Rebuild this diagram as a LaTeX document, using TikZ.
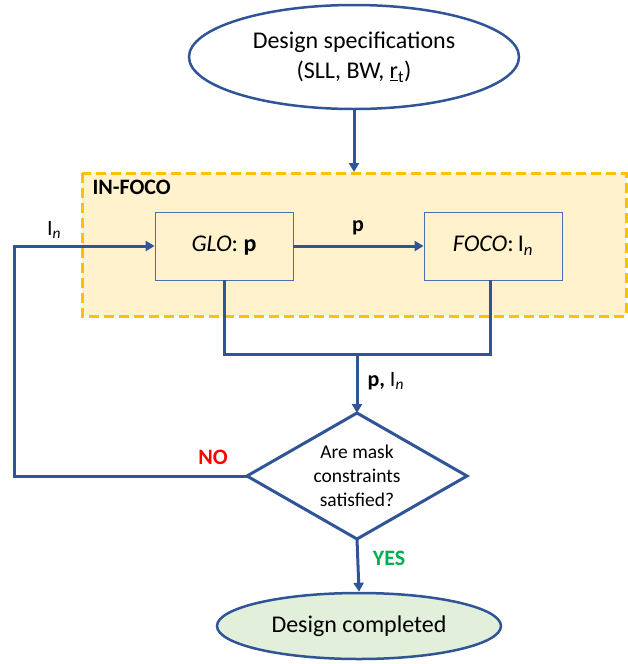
\documentclass[tikz,border=0pt]{standalone}
\usepackage{fontspec}
\setmainfont{Carlito}
\usetikzlibrary{shapes.geometric,arrows.meta}
\definecolor{lineblue}{HTML}{2F5597}
\definecolor{boxblue}{HTML}{4A6FB0}
\definecolor{infill}{HTML}{FFF2CC}
\definecolor{inedge}{HTML}{FFC000}
\definecolor{donefill}{HTML}{E2EFDA}
\definecolor{nored}{HTML}{FF0000}
\definecolor{yesgreen}{HTML}{00B050}
\tikzset{
  x=1pt,y=-1pt,
  conn/.style={draw=lineblue,line width=3pt},
  arr/.style={conn,-{Triangle[length=9pt,width=10pt]}},
  terminal/.style={ellipse,draw=lineblue,line width=2.5pt,inner sep=0pt,align=center,font=\fontsize{24}{30}\selectfont},
  procbox/.style={rectangle,draw=boxblue,line width=0.8pt,fill=infill,minimum width=138pt,minimum height=68pt,font=\fontsize{24}{28}\selectfont},
  decision/.style={diamond,shape aspect=1.75,draw=lineblue,line width=3pt,fill=white,minimum width=220pt,minimum height=126pt,inner sep=0pt,outer sep=0pt,align=center,font=\fontsize{19.5}{24}\selectfont},
  lbl/.style={font=\fontsize{22}{26}\selectfont},
  blbl/.style={font=\fontsize{22}{26}\selectfont\bfseries},
}
\begin{document}
\begin{tikzpicture}
\useasboundingbox (0,0) rectangle (627,664);
% dashed IN-FOCO region
\draw[draw=inedge,fill=infill,line width=3pt,dash pattern=on 10pt off 5pt] (82,173) rectangle (626,316);
\node[anchor=west,blbl] (infoco) at (89,187) {IN-FOCO};
% nodes
\node[terminal,minimum width=330pt,minimum height=104pt] (spec) at (354,57) {Design specifications\\(SLL, BW, \underline{r}\textsubscript{t})};
\node[procbox] (glo) at (224,246) {\textit{GLO}: \textbf{p}};
\node[procbox] (foco) at (493,246) {\textit{FOCO}:\,I\textsubscript{\textit{n}}};
\node[decision] (dec) at (357,476) {Are mask\\constraints\\satisfied?};
\node[terminal,fill=donefill,minimum width=284pt,minimum height=66pt] (done) at (359,626) {Design completed};
\coordinate (fb) at (14,246);
\coordinate (fbb) at (14,476);
\coordinate (jl) at (224,354);
\coordinate (jr) at (490,354);
\coordinate (jm) at (357,354);
% connectors
\draw[arr] (spec.south) -- (354,172);
\draw[arr] (glo.east) -- (foco.west);
\node[blbl] (plbl) at (358,228) {p};
\draw[conn] (glo.south) -- (jl) -- (jr) -- (490,280);
\draw[arr] (jm) -- (dec.north);
\node[lbl,anchor=west] (pin) at (364,381) {\textbf{p,} I\textsubscript{\textit{n}}};
\draw[arr] (dec.west) -- (fbb) -- (fb) -- (glo.west);
\node[lbl] (inlbl) at (54,230) {I\textsubscript{\textit{n}}};
\draw[arr] (dec.south) -- (done.north);
\node[blbl,text=nored] (no) at (213,457) {NO};
\node[blbl,text=yesgreen] (yes) at (389,558) {YES};
\end{tikzpicture}
\end{document}
